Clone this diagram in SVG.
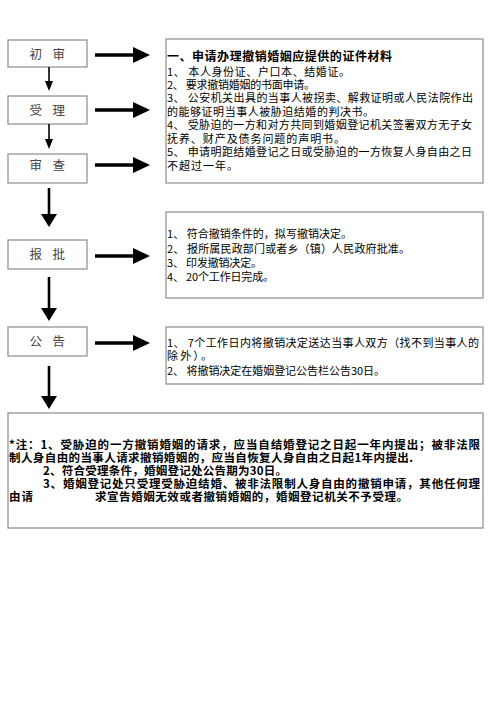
<svg xmlns="http://www.w3.org/2000/svg" width="496" height="702" viewBox="0 0 496 702">
<style>
.box{fill:#fff;stroke:#8c8c8c;stroke-width:1.2}
.lbl{font-family:"Noto Sans CJK SC",sans-serif;font-size:12.5px;fill:#444}
.t{font-family:"Noto Sans CJK SC",sans-serif;font-size:11px;fill:#000}
.tb{font-family:"Noto Sans CJK SC",sans-serif;font-size:12px;font-weight:bold;fill:#000}
.n{font-family:"Noto Sans CJK SC",sans-serif;font-size:11.5px;font-weight:bold;fill:#000}
.thin{stroke:#000;stroke-width:1.6;fill:none}
.thick{stroke:#000;stroke-width:2.6;fill:none}
.hz{stroke:#000;stroke-width:3.4;fill:none}
.head{fill:#000}
</style>
<rect width="496" height="702" fill="#fff"/>
<g id="node-chushen">
<rect class="box" x="8" y="40" width="79" height="27"/>
<text class="lbl" x="29.5 52.5" y="59">初审</text>
</g>
<g id="node-shouli">
<rect class="box" x="8" y="96" width="79" height="28"/>
<text class="lbl" x="29.5 52.5" y="114.5">受理</text>
</g>
<g id="node-shencha">
<rect class="box" x="8" y="154" width="79" height="29"/>
<text class="lbl" x="29.5 52.5" y="170">审查</text>
</g>
<g id="node-baopi">
<rect class="box" x="8" y="240" width="79" height="29"/>
<text class="lbl" x="29.5 52.5" y="259">报批</text>
</g>
<g id="node-gonggao">
<rect class="box" x="8" y="327" width="79" height="29"/>
<text class="lbl" x="29.5 52.5" y="346">公告</text>
</g>
<g id="node-materials">
<rect class="box" x="166" y="39" width="317" height="144"/>
<text class="tb" x="167" y="61" textLength="225" lengthAdjust="spacing">一、申请办理撤销婚姻应提供的证件材料</text>
<text class="t" x="167" y="75.5" textLength="183" lengthAdjust="spacing">1、 本人身份证、户口本、结婚证。</text>
<text class="t" x="167" y="88.5" textLength="148" lengthAdjust="spacing">2、 要求撤销婚姻的书面申请。</text>
<text class="t" x="167" y="102" textLength="306" lengthAdjust="spacing">3、 公安机关出具的当事人被拐卖、解救证明或人民法院作出</text>
<text class="t" x="167" y="115.5" textLength="207" lengthAdjust="spacing">的能够证明当事人被胁迫结婚的判决书。</text>
<text class="t" x="167" y="129" textLength="305" lengthAdjust="spacing">4、 受胁迫的一方和对方共同到婚姻登记机关签署双方无子女</text>
<text class="t" x="167" y="142.5" textLength="178" lengthAdjust="spacing">抚养、财产及债务问题的声明书。</text>
<text class="t" x="167" y="156" textLength="305" lengthAdjust="spacing">5、 申请明距结婚登记之日或受胁迫的一方恢复人身自由之日</text>
<text class="t" x="167" y="169.5" textLength="71" lengthAdjust="spacing">不超过一年。</text>
</g>
<g id="node-approval">
<rect class="box" x="166" y="212" width="317" height="86"/>
<text class="t" x="167" y="238" textLength="185" lengthAdjust="spacing">1、 符合撤销条件的，拟写撤销决定。</text>
<text class="t" x="167" y="252.5" textLength="243" lengthAdjust="spacing">2、 报所属民政部门或者乡（镇）人民政府批准。</text>
<text class="t" x="167" y="266.5" textLength="95" lengthAdjust="spacing">3、 印发撤销决定。</text>
<text class="t" x="167" y="280.5" textLength="107" lengthAdjust="spacing">4、 20个工作日完成。</text>
</g>
<g id="node-notice">
<rect class="box" x="166" y="327" width="317" height="57"/>
<text class="t" x="167" y="347" textLength="312" lengthAdjust="spacing">1、 7个工作日内将撤销决定送达当事人双方（找不到当事人的</text>
<text class="t" x="167" y="360" textLength="45" lengthAdjust="spacing">除外）。</text>
<text class="t" x="167" y="375" textLength="218" lengthAdjust="spacing">2、 将撤销决定在婚姻登记公告栏公告30日。</text>
</g>
<g id="node-note">
<rect class="box" x="8" y="413" width="475" height="115"/>
<text class="n" x="9" y="448.5" textLength="471" lengthAdjust="spacing">*注：1、受胁迫的一方撤销婚姻的请求，应当自结婚登记之日起一年内提出；被非法限</text>
<text class="n" x="9" y="461.5" textLength="404" lengthAdjust="spacing">制人身自由的当事人请求撤销婚姻的，应当自恢复人身自由之日起1年内提出.</text>
<text class="n" x="43" y="474.5" textLength="244" lengthAdjust="spacing">2、符合受理条件，婚姻登记处公告期为30日。</text>
<text class="n" x="43" y="487.5" textLength="437" lengthAdjust="spacing">3、婚姻登记处只受理受胁迫结婚、被非法限制人身自由的撤销申请，其他任何理</text>
<text class="n" x="9" y="501" textLength="24" lengthAdjust="spacing">由请</text>
<text class="n" x="95" y="501" textLength="313" lengthAdjust="spacing">求宣告婚姻无效或者撤销婚姻的，婚姻登记机关不予受理。</text>
</g>
<g id="connectors">
<line class="thin" x1="49" y1="67" x2="49" y2="82"/>
<polygon class="head" points="45,81 53,81 49,91"/>
<line class="thin" x1="49" y1="124" x2="49" y2="140"/>
<polygon class="head" points="45,139 53,139 49,149"/>
<line class="thick" x1="49" y1="188" x2="49" y2="216"/>
<polygon class="head" points="41,214 57,214 49,227"/>
<line class="thick" x1="49" y1="277" x2="49" y2="310"/>
<polygon class="head" points="41,308 57,308 49,321"/>
<line class="thick" x1="49" y1="366" x2="49" y2="398"/>
<polygon class="head" points="41,396 57,396 49,409"/>
<line class="hz" x1="95" y1="55" x2="135" y2="55"/>
<polygon class="head" points="133,47 133,63 150,55"/>
<line class="hz" x1="95" y1="110" x2="135" y2="110"/>
<polygon class="head" points="133,102 133,118 150,110"/>
<line class="hz" x1="95" y1="165" x2="135" y2="165"/>
<polygon class="head" points="133,157 133,173 150,165"/>
<line class="hz" x1="95" y1="256" x2="135" y2="256"/>
<polygon class="head" points="133,248 133,264 150,256"/>
<line class="hz" x1="95" y1="343" x2="135" y2="343"/>
<polygon class="head" points="133,335 133,351 150,343"/>
</g>
</svg>
